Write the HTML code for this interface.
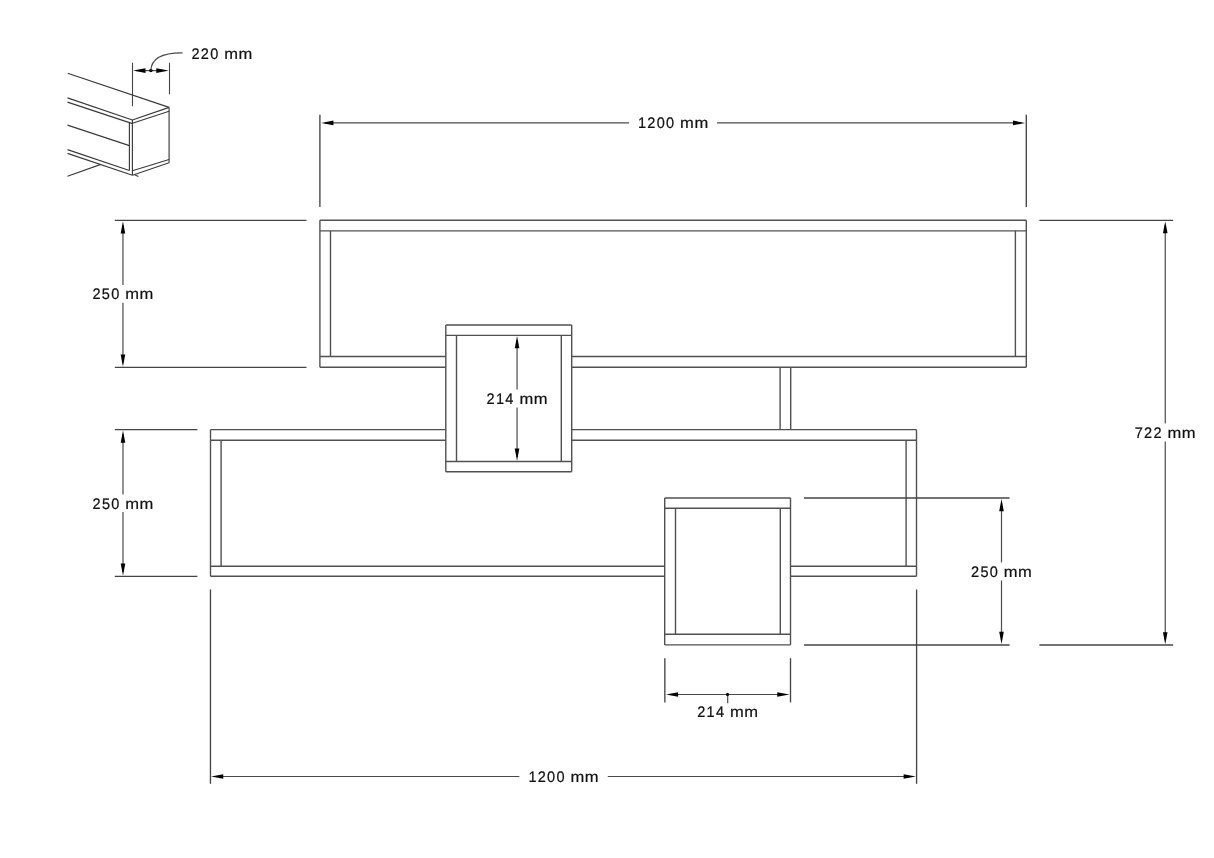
<!DOCTYPE html>
<html><head><meta charset="utf-8"><title>Shelf dimensions</title>
<style>
html,body{margin:0;padding:0;background:#fff;}
body{width:1214px;height:858px;overflow:hidden;}
svg{display:block;filter:grayscale(1);}
text{font-family:"Liberation Sans",sans-serif;fill:#111;stroke:#111;stroke-width:0.22px;}
</style></head>
<body>
<svg width="1214" height="858" viewBox="0 0 1214 858">
<rect x="0" y="0" width="1214" height="858" fill="#fff"/>
<line x1="319.9" y1="220.3" x2="1026.3" y2="220.3" stroke="#505050" stroke-width="1.4"/>
<line x1="319.9" y1="230.9" x2="1026.3" y2="230.9" stroke="#505050" stroke-width="1.4"/>
<line x1="319.9" y1="220.3" x2="319.9" y2="367.3" stroke="#505050" stroke-width="1.4"/>
<line x1="1026.3" y1="220.3" x2="1026.3" y2="367.3" stroke="#505050" stroke-width="1.4"/>
<line x1="330.5" y1="230.9" x2="330.5" y2="356.5" stroke="#505050" stroke-width="1.4"/>
<line x1="1015.4" y1="230.9" x2="1015.4" y2="356.5" stroke="#505050" stroke-width="1.4"/>
<line x1="319.9" y1="356.5" x2="445.8" y2="356.5" stroke="#505050" stroke-width="1.4"/>
<line x1="319.9" y1="367.3" x2="445.8" y2="367.3" stroke="#505050" stroke-width="1.4"/>
<line x1="571.7" y1="356.5" x2="1026.3" y2="356.5" stroke="#505050" stroke-width="1.4"/>
<line x1="571.7" y1="367.3" x2="1026.3" y2="367.3" stroke="#505050" stroke-width="1.4"/>
<line x1="780.1" y1="367.3" x2="780.1" y2="429.6" stroke="#505050" stroke-width="1.4"/>
<line x1="790.7" y1="367.3" x2="790.7" y2="429.6" stroke="#505050" stroke-width="1.4"/>
<line x1="210.5" y1="429.6" x2="445.8" y2="429.6" stroke="#505050" stroke-width="1.4"/>
<line x1="210.5" y1="440.3" x2="445.8" y2="440.3" stroke="#505050" stroke-width="1.4"/>
<line x1="571.7" y1="429.6" x2="916.5" y2="429.6" stroke="#505050" stroke-width="1.4"/>
<line x1="571.7" y1="440.3" x2="916.5" y2="440.3" stroke="#505050" stroke-width="1.4"/>
<line x1="210.5" y1="429.6" x2="210.5" y2="576.3" stroke="#505050" stroke-width="1.4"/>
<line x1="916.5" y1="429.6" x2="916.5" y2="576.3" stroke="#505050" stroke-width="1.4"/>
<line x1="221.1" y1="440.3" x2="221.1" y2="566.2" stroke="#505050" stroke-width="1.4"/>
<line x1="906.1" y1="440.3" x2="906.1" y2="566.2" stroke="#505050" stroke-width="1.4"/>
<line x1="210.5" y1="566.2" x2="664.7" y2="566.2" stroke="#505050" stroke-width="1.4"/>
<line x1="210.5" y1="576.3" x2="664.7" y2="576.3" stroke="#505050" stroke-width="1.4"/>
<line x1="790.5" y1="566.2" x2="916.5" y2="566.2" stroke="#505050" stroke-width="1.4"/>
<line x1="790.5" y1="576.3" x2="916.5" y2="576.3" stroke="#505050" stroke-width="1.4"/>
<line x1="445.8" y1="325.0" x2="571.7" y2="325.0" stroke="#505050" stroke-width="1.4"/>
<line x1="445.8" y1="471.7" x2="571.7" y2="471.7" stroke="#505050" stroke-width="1.4"/>
<line x1="445.8" y1="325.0" x2="445.8" y2="471.7" stroke="#505050" stroke-width="1.4"/>
<line x1="571.7" y1="325.0" x2="571.7" y2="471.7" stroke="#505050" stroke-width="1.4"/>
<line x1="445.8" y1="335.4" x2="571.7" y2="335.4" stroke="#505050" stroke-width="1.4"/>
<line x1="445.8" y1="461.5" x2="571.7" y2="461.5" stroke="#505050" stroke-width="1.4"/>
<line x1="456.5" y1="335.4" x2="456.5" y2="461.5" stroke="#505050" stroke-width="1.4"/>
<line x1="561.3" y1="335.4" x2="561.3" y2="461.5" stroke="#505050" stroke-width="1.4"/>
<line x1="664.7" y1="498.0" x2="790.5" y2="498.0" stroke="#505050" stroke-width="1.4"/>
<line x1="664.7" y1="644.9" x2="790.5" y2="644.9" stroke="#505050" stroke-width="1.4"/>
<line x1="664.7" y1="498.0" x2="664.7" y2="644.9" stroke="#505050" stroke-width="1.4"/>
<line x1="790.5" y1="498.0" x2="790.5" y2="644.9" stroke="#505050" stroke-width="1.4"/>
<line x1="664.7" y1="508.3" x2="790.5" y2="508.3" stroke="#505050" stroke-width="1.4"/>
<line x1="664.7" y1="634.3" x2="790.5" y2="634.3" stroke="#505050" stroke-width="1.4"/>
<line x1="675.5" y1="508.3" x2="675.5" y2="634.3" stroke="#505050" stroke-width="1.4"/>
<line x1="780.3" y1="508.3" x2="780.3" y2="634.3" stroke="#505050" stroke-width="1.4"/>
<line x1="319.9" y1="114.7" x2="319.9" y2="207.0" stroke="#444444" stroke-width="1.35"/>
<line x1="1026.3" y1="114.7" x2="1026.3" y2="207.0" stroke="#444444" stroke-width="1.35"/>
<line x1="325" y1="122.9" x2="629.1" y2="122.9" stroke="#4a4a4a" stroke-width="1.2"/>
<line x1="717.0" y1="122.9" x2="1021" y2="122.9" stroke="#4a4a4a" stroke-width="1.2"/>
<polygon points="321.25,122.90 333.45,120.60 333.45,125.20" fill="#000"/>
<polygon points="1025.15,122.90 1012.95,120.60 1012.95,125.20" fill="#000"/>
<line x1="114.8" y1="220.3" x2="306.5" y2="220.3" stroke="#444444" stroke-width="1.35"/>
<line x1="114.8" y1="367.4" x2="306.5" y2="367.4" stroke="#444444" stroke-width="1.35"/>
<line x1="122.95" y1="225" x2="122.95" y2="284.9" stroke="#4a4a4a" stroke-width="1.2"/>
<line x1="122.95" y1="302.7" x2="122.95" y2="363" stroke="#4a4a4a" stroke-width="1.2"/>
<polygon points="122.95,221.25 120.65,233.45 125.25,233.45" fill="#000"/>
<polygon points="122.95,366.75 120.65,354.55 125.25,354.55" fill="#000"/>
<line x1="114.8" y1="429.6" x2="197.4" y2="429.6" stroke="#444444" stroke-width="1.35"/>
<line x1="114.8" y1="576.3" x2="197.4" y2="576.3" stroke="#444444" stroke-width="1.35"/>
<line x1="123.0" y1="434" x2="123.0" y2="494.4" stroke="#4a4a4a" stroke-width="1.2"/>
<line x1="123.0" y1="512.0" x2="123.0" y2="572" stroke="#4a4a4a" stroke-width="1.2"/>
<polygon points="123.00,430.55 120.70,442.75 125.30,442.75" fill="#000"/>
<polygon points="123.00,575.65 120.70,563.45 125.30,563.45" fill="#000"/>
<line x1="804.0" y1="497.95" x2="1009.6" y2="497.95" stroke="#444444" stroke-width="1.35"/>
<line x1="804.0" y1="644.95" x2="1009.6" y2="644.95" stroke="#444444" stroke-width="1.35"/>
<line x1="1001.5" y1="503" x2="1001.5" y2="562.4" stroke="#4a4a4a" stroke-width="1.2"/>
<line x1="1001.5" y1="580.4" x2="1001.5" y2="640" stroke="#4a4a4a" stroke-width="1.2"/>
<polygon points="1001.50,499.05 999.20,511.25 1003.80,511.25" fill="#000"/>
<polygon points="1001.50,644.05 999.20,631.85 1003.80,631.85" fill="#000"/>
<line x1="1039.4" y1="220.3" x2="1173.1" y2="220.3" stroke="#444444" stroke-width="1.35"/>
<line x1="1039.4" y1="645.0" x2="1173.1" y2="645.0" stroke="#444444" stroke-width="1.35"/>
<line x1="1165.25" y1="225" x2="1165.25" y2="423.5" stroke="#4a4a4a" stroke-width="1.2"/>
<line x1="1165.25" y1="441.5" x2="1165.25" y2="640" stroke="#4a4a4a" stroke-width="1.2"/>
<polygon points="1165.25,221.15 1162.95,233.35 1167.55,233.35" fill="#000"/>
<polygon points="1165.25,644.35 1162.95,632.15 1167.55,632.15" fill="#000"/>
<line x1="664.85" y1="658.2" x2="664.85" y2="702.4" stroke="#444444" stroke-width="1.35"/>
<line x1="790.5" y1="658.2" x2="790.5" y2="702.4" stroke="#444444" stroke-width="1.35"/>
<line x1="670" y1="694.5" x2="786" y2="694.5" stroke="#4a4a4a" stroke-width="1.2"/>
<polygon points="665.95,694.50 678.15,692.20 678.15,696.80" fill="#000"/>
<polygon points="789.45,694.50 777.25,692.20 777.25,696.80" fill="#000"/>
<line x1="727.7" y1="694.5" x2="727.7" y2="703.2" stroke="#4a4a4a" stroke-width="1.2"/>
<circle cx="727.5" cy="694.4" r="1.55" fill="#000"/>
<line x1="210.46" y1="589.5" x2="210.46" y2="783.8" stroke="#444444" stroke-width="1.35"/>
<line x1="916.59" y1="589.5" x2="916.59" y2="783.8" stroke="#444444" stroke-width="1.35"/>
<line x1="215" y1="776.5" x2="519.4" y2="776.5" stroke="#4a4a4a" stroke-width="1.2"/>
<line x1="607.8" y1="776.5" x2="912" y2="776.5" stroke="#4a4a4a" stroke-width="1.2"/>
<polygon points="211.05,776.50 223.25,774.20 223.25,778.80" fill="#000"/>
<polygon points="915.85,776.50 903.65,774.20 903.65,778.80" fill="#000"/>
<line x1="517.05" y1="340" x2="517.05" y2="389.4" stroke="#4a4a4a" stroke-width="1.2"/>
<line x1="517.05" y1="407.4" x2="517.05" y2="457" stroke="#4a4a4a" stroke-width="1.2"/>
<polygon points="517.05,335.95 514.75,348.15 519.35,348.15" fill="#000"/>
<polygon points="517.05,460.75 514.75,448.55 519.35,448.55" fill="#000"/>
<line x1="67.7" y1="73.3" x2="169.1" y2="107.4" stroke="#3a3a3a" stroke-width="1.15"/>
<line x1="67.5" y1="97.9" x2="132.4" y2="120.0" stroke="#3a3a3a" stroke-width="1.15"/>
<line x1="67.5" y1="102.1" x2="132.4" y2="123.6" stroke="#3a3a3a" stroke-width="1.15"/>
<line x1="67.5" y1="125.1" x2="129.4" y2="145.6" stroke="#3a3a3a" stroke-width="1.15"/>
<line x1="67.5" y1="149.6" x2="129.4" y2="170.5" stroke="#3a3a3a" stroke-width="1.15"/>
<line x1="67.5" y1="153.4" x2="132.4" y2="175.2" stroke="#3a3a3a" stroke-width="1.15"/>
<line x1="67.5" y1="176.2" x2="100.9" y2="164.4" stroke="#3a3a3a" stroke-width="1.15"/>
<line x1="134.7" y1="174.7" x2="138.4" y2="176.6" stroke="#3a3a3a" stroke-width="1.15"/>
<line x1="132.4" y1="120.0" x2="169.1" y2="107.4" stroke="#3a3a3a" stroke-width="1.15"/>
<line x1="132.4" y1="123.3" x2="169.1" y2="111.3" stroke="#3a3a3a" stroke-width="1.15"/>
<line x1="132.4" y1="170.7" x2="169.1" y2="159.5" stroke="#3a3a3a" stroke-width="1.15"/>
<line x1="132.4" y1="175.2" x2="169.1" y2="162.7" stroke="#3a3a3a" stroke-width="1.15"/>
<line x1="169.1" y1="107.4" x2="169.1" y2="162.7" stroke="#3a3a3a" stroke-width="1.15"/>
<line x1="132.4" y1="120.0" x2="132.4" y2="175.2" stroke="#3a3a3a" stroke-width="1.15"/>
<line x1="129.4" y1="122.8" x2="129.4" y2="170.5" stroke="#3a3a3a" stroke-width="1.15"/>
<line x1="132.5" y1="62.8" x2="132.5" y2="106.2" stroke="#444444" stroke-width="1.1"/>
<line x1="169.5" y1="62.8" x2="169.5" y2="94.3" stroke="#444444" stroke-width="1.1"/>
<line x1="136" y1="70.6" x2="166" y2="70.6" stroke="#4a4a4a" stroke-width="1.2"/>
<polygon points="133.10,70.60 145.50,68.15 145.50,73.05" fill="#000"/>
<polygon points="168.70,70.60 156.30,68.15 156.30,73.05" fill="#000"/>
<circle cx="150.9" cy="70.6" r="1.75" fill="#000"/>
<path d="M150.9,70.6 Q151.2,52.6 182.5,52.8" fill="none" stroke="#4a4a4a" stroke-width="1.2"/>
<text x="195.57" y="59" font-size="15.3" text-rendering="geometricPrecision" text-anchor="middle" transform="matrix(0.95 0 0 1 9.78 0)">2</text>
<text x="204.90" y="59" font-size="15.3" text-rendering="geometricPrecision" text-anchor="middle" transform="matrix(0.95 0 0 1 10.25 0)">2</text>
<text x="214.23" y="59" font-size="15.3" text-rendering="geometricPrecision" text-anchor="middle" transform="matrix(0.95 0 0 1 10.71 0)">0</text>
<text x="231.19" y="59" font-size="15.3" text-rendering="geometricPrecision" text-anchor="middle" transform="matrix(1.08 0 0 1 -18.50 0)">m</text>
<text x="245.46" y="59" font-size="15.3" text-rendering="geometricPrecision" text-anchor="middle" transform="matrix(1.08 0 0 1 -19.64 0)">m</text>
<text x="642.05" y="128" font-size="15.3" text-rendering="geometricPrecision" text-anchor="middle" transform="matrix(0.95 0 0 1 32.10 0)">1</text>
<text x="651.38" y="128" font-size="15.3" text-rendering="geometricPrecision" text-anchor="middle" transform="matrix(0.95 0 0 1 32.57 0)">2</text>
<text x="660.72" y="128" font-size="15.3" text-rendering="geometricPrecision" text-anchor="middle" transform="matrix(0.95 0 0 1 33.04 0)">0</text>
<text x="670.05" y="128" font-size="15.3" text-rendering="geometricPrecision" text-anchor="middle" transform="matrix(0.95 0 0 1 33.50 0)">0</text>
<text x="687.01" y="128" font-size="15.3" text-rendering="geometricPrecision" text-anchor="middle" transform="matrix(1.08 0 0 1 -54.96 0)">m</text>
<text x="701.28" y="128" font-size="15.3" text-rendering="geometricPrecision" text-anchor="middle" transform="matrix(1.08 0 0 1 -56.10 0)">m</text>
<text x="96.57" y="299" font-size="15.3" text-rendering="geometricPrecision" text-anchor="middle" transform="matrix(0.95 0 0 1 4.83 0)">2</text>
<text x="105.90" y="299" font-size="15.3" text-rendering="geometricPrecision" text-anchor="middle" transform="matrix(0.95 0 0 1 5.30 0)">5</text>
<text x="115.23" y="299" font-size="15.3" text-rendering="geometricPrecision" text-anchor="middle" transform="matrix(0.95 0 0 1 5.76 0)">0</text>
<text x="132.19" y="299" font-size="15.3" text-rendering="geometricPrecision" text-anchor="middle" transform="matrix(1.08 0 0 1 -10.58 0)">m</text>
<text x="146.46" y="299" font-size="15.3" text-rendering="geometricPrecision" text-anchor="middle" transform="matrix(1.08 0 0 1 -11.72 0)">m</text>
<text x="96.62" y="509" font-size="15.3" text-rendering="geometricPrecision" text-anchor="middle" transform="matrix(0.95 0 0 1 4.83 0)">2</text>
<text x="105.95" y="509" font-size="15.3" text-rendering="geometricPrecision" text-anchor="middle" transform="matrix(0.95 0 0 1 5.30 0)">5</text>
<text x="115.28" y="509" font-size="15.3" text-rendering="geometricPrecision" text-anchor="middle" transform="matrix(0.95 0 0 1 5.76 0)">0</text>
<text x="132.24" y="509" font-size="15.3" text-rendering="geometricPrecision" text-anchor="middle" transform="matrix(1.08 0 0 1 -10.58 0)">m</text>
<text x="146.51" y="509" font-size="15.3" text-rendering="geometricPrecision" text-anchor="middle" transform="matrix(1.08 0 0 1 -11.72 0)">m</text>
<text x="490.67" y="404" font-size="15.3" text-rendering="geometricPrecision" text-anchor="middle" transform="matrix(0.95 0 0 1 24.53 0)">2</text>
<text x="500.00" y="404" font-size="15.3" text-rendering="geometricPrecision" text-anchor="middle" transform="matrix(0.95 0 0 1 25.00 0)">1</text>
<text x="509.33" y="404" font-size="15.3" text-rendering="geometricPrecision" text-anchor="middle" transform="matrix(0.95 0 0 1 25.47 0)">4</text>
<text x="526.29" y="404" font-size="15.3" text-rendering="geometricPrecision" text-anchor="middle" transform="matrix(1.08 0 0 1 -42.10 0)">m</text>
<text x="540.56" y="404" font-size="15.3" text-rendering="geometricPrecision" text-anchor="middle" transform="matrix(1.08 0 0 1 -43.24 0)">m</text>
<text x="1138.82" y="438" font-size="15.3" text-rendering="geometricPrecision" text-anchor="middle" transform="matrix(0.95 0 0 1 56.94 0)">7</text>
<text x="1148.15" y="438" font-size="15.3" text-rendering="geometricPrecision" text-anchor="middle" transform="matrix(0.95 0 0 1 57.41 0)">2</text>
<text x="1157.48" y="438" font-size="15.3" text-rendering="geometricPrecision" text-anchor="middle" transform="matrix(0.95 0 0 1 57.87 0)">2</text>
<text x="1174.44" y="438" font-size="15.3" text-rendering="geometricPrecision" text-anchor="middle" transform="matrix(1.08 0 0 1 -93.96 0)">m</text>
<text x="1188.71" y="438" font-size="15.3" text-rendering="geometricPrecision" text-anchor="middle" transform="matrix(1.08 0 0 1 -95.10 0)">m</text>
<text x="975.12" y="577" font-size="15.3" text-rendering="geometricPrecision" text-anchor="middle" transform="matrix(0.95 0 0 1 48.76 0)">2</text>
<text x="984.45" y="577" font-size="15.3" text-rendering="geometricPrecision" text-anchor="middle" transform="matrix(0.95 0 0 1 49.22 0)">5</text>
<text x="993.78" y="577" font-size="15.3" text-rendering="geometricPrecision" text-anchor="middle" transform="matrix(0.95 0 0 1 49.69 0)">0</text>
<text x="1010.74" y="577" font-size="15.3" text-rendering="geometricPrecision" text-anchor="middle" transform="matrix(1.08 0 0 1 -80.86 0)">m</text>
<text x="1025.01" y="577" font-size="15.3" text-rendering="geometricPrecision" text-anchor="middle" transform="matrix(1.08 0 0 1 -82.00 0)">m</text>
<text x="701.32" y="717" font-size="15.3" text-rendering="geometricPrecision" text-anchor="middle" transform="matrix(0.95 0 0 1 35.07 0)">2</text>
<text x="710.65" y="717" font-size="15.3" text-rendering="geometricPrecision" text-anchor="middle" transform="matrix(0.95 0 0 1 35.53 0)">1</text>
<text x="719.98" y="717" font-size="15.3" text-rendering="geometricPrecision" text-anchor="middle" transform="matrix(0.95 0 0 1 36.00 0)">4</text>
<text x="736.94" y="717" font-size="15.3" text-rendering="geometricPrecision" text-anchor="middle" transform="matrix(1.08 0 0 1 -58.96 0)">m</text>
<text x="751.21" y="717" font-size="15.3" text-rendering="geometricPrecision" text-anchor="middle" transform="matrix(1.08 0 0 1 -60.10 0)">m</text>
<text x="532.45" y="782" font-size="15.3" text-rendering="geometricPrecision" text-anchor="middle" transform="matrix(0.95 0 0 1 26.62 0)">1</text>
<text x="541.78" y="782" font-size="15.3" text-rendering="geometricPrecision" text-anchor="middle" transform="matrix(0.95 0 0 1 27.09 0)">2</text>
<text x="551.12" y="782" font-size="15.3" text-rendering="geometricPrecision" text-anchor="middle" transform="matrix(0.95 0 0 1 27.56 0)">0</text>
<text x="560.45" y="782" font-size="15.3" text-rendering="geometricPrecision" text-anchor="middle" transform="matrix(0.95 0 0 1 28.02 0)">0</text>
<text x="577.41" y="782" font-size="15.3" text-rendering="geometricPrecision" text-anchor="middle" transform="matrix(1.08 0 0 1 -46.19 0)">m</text>
<text x="591.68" y="782" font-size="15.3" text-rendering="geometricPrecision" text-anchor="middle" transform="matrix(1.08 0 0 1 -47.33 0)">m</text>
</svg>
</body></html>
